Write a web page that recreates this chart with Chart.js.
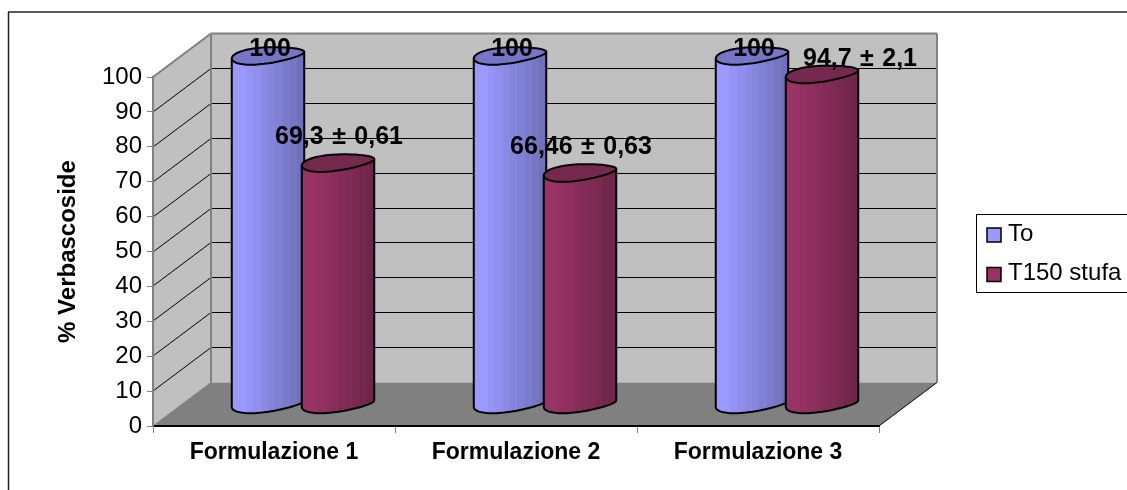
<!DOCTYPE html>
<html>
<head>
<meta charset="utf-8">
<title>% Verbascoside</title>
<script src="https://cdn.jsdelivr.net/npm/chart.js@4/dist/chart.umd.min.js"></script>
<style>
	html, body { margin: 0; padding: 0; background: #fff; overflow: hidden; }
	canvas { display: block; }
</style>
</head>
<body>
<canvas id="bar-graph" width="1127" height="490"></canvas>
<script>
!function(global) {

	var categories = ['Formulazione 1', 'Formulazione 2', 'Formulazione 3'];
	var seriesNames = ['To', 'T150 stufa'];
	var toValues = [100, 100, 100];
	var t150Values = [69.3, 66.46, 94.7];
	var toLabels = ['100', '100', '100'];
	var t150Labels = ['69,3 ± 0,61', '66,46 ± 0,63', '94,7 ± 2,1'];
	var yTicks = [0, 10, 20, 30, 40, 50, 60, 70, 80, 90, 100];

	var FONT = '"Liberation Sans", Arial, sans-serif';
	var BLUE = ['#9999ff', '#6c6cb2'];
	var RED = ['#993366', '#6a2446'];
	var TOP_BLUE = '#7676c6';
	var TOP_RED = '#76294f';

	// how far the back wall sits from the front plane
	var DEPTH_X = 58, DEPTH_Y = -43.5;
	var TILT = -5.5 * Math.PI / 180;
	var RY = 8;
	var DENT = -1;

	function mix(a, b, t) {
		var pa = parseInt(a.slice(1), 16), pb = parseInt(b.slice(1), 16);
		var out = [16, 8, 0].map(function(s) {
			var ca = (pa >> s) & 255, cb = (pb >> s) & 255;
			return Math.round(ca + (cb - ca) * t);
		});
		return 'rgb(' + out.join(',') + ')';
	}

	// stepped gradient so the cylinder looks faceted
	function facets(ctx, left, right, colors) {
		var g = ctx.createLinearGradient(left, 0, right, 0);
		var n = 10;
		for (var i = 0; i < n; i++) {
			var t = i < 2 ? 0 : (i - 1) / (n - 1);
			var c = mix(colors[0], colors[1], t);
			g.addColorStop(i / n, c);
			g.addColorStop((i + 1) / n, c);
		}
		return g;
	}

	// point on the rim of a cylinder, a tilted ellipse with a slight dent
	function rim(cx, cy, rx, t) {
		var px = rx * Math.cos(t);
		var py = RY * Math.sin(t) + DENT * Math.sin(2 * t);
		return [
			cx + px * Math.cos(TILT) - py * Math.sin(TILT),
			cy + px * Math.sin(TILT) + py * Math.cos(TILT)
		];
	}

	function traceRim(ctx, cx, cy, rx, from, to) {
		var steps = 48;
		for (var i = 0; i <= steps; i++) {
			var p = rim(cx, cy, rx, from + (to - from) * i / steps);
			ctx.lineTo(p[0], p[1]);
		}
	}

	function drawCylinder(ctx, el, colors, topColor) {
		var cx = el.x + DEPTH_X / 2;
		var topY = el.y + DEPTH_Y / 2;
		var botY = el.base + DEPTH_Y / 2;
		var rx = el.width / 2;
		var left = rim(cx, topY, rx, Math.PI), right = rim(cx, topY, rx, 0);

		ctx.lineJoin = 'round';
		ctx.beginPath();
		ctx.moveTo(left[0], left[1]);
		traceRim(ctx, cx, botY, rx, Math.PI, 0);
		ctx.lineTo(right[0], right[1]);
		ctx.closePath();
		ctx.fillStyle = facets(ctx, cx - rx, cx + rx, colors);
		ctx.fill();
		ctx.lineWidth = 2;
		ctx.strokeStyle = '#000';
		ctx.stroke();

		ctx.beginPath();
		traceRim(ctx, cx, topY, rx, 0, Math.PI * 2);
		ctx.closePath();
		ctx.fillStyle = topColor;
		ctx.fill();
		ctx.stroke();
	}

	function poly(ctx, pts, fill) {
		ctx.beginPath();
		pts.forEach(function(p, i) {
			if (i) ctx.lineTo(p[0], p[1]); else ctx.moveTo(p[0], p[1]);
		});
		ctx.closePath();
		ctx.fillStyle = fill;
		ctx.fill();
	}

	function line(ctx, x1, y1, x2, y2, color, lw) {
		ctx.beginPath();
		ctx.moveTo(x1, y1);
		ctx.lineTo(x2, y2);
		ctx.strokeStyle = color;
		ctx.lineWidth = lw;
		ctx.stroke();
	}

	var walls = {
		id: 'walls',
		beforeDraw: function(chart) {
			var ctx = chart.ctx, a = chart.chartArea, y = chart.scales.y;
			var l = a.left, r = a.right, t = a.top, b = a.bottom;
			ctx.save();

			// the frame only shows along the top and the left
			line(ctx, 8.5, 490, 8.5, 12, '#222', 1.5);
			line(ctx, 8, 12, 1127, 12, '#222', 1.5);

			poly(ctx, [[l, t], [l + DEPTH_X, t + DEPTH_Y], [l + DEPTH_X, b + DEPTH_Y], [l, b]], '#c0c0c0');
			poly(ctx, [[l + DEPTH_X, t + DEPTH_Y], [r + DEPTH_X, t + DEPTH_Y], [r + DEPTH_X, b + DEPTH_Y], [l + DEPTH_X, b + DEPTH_Y]], '#c0c0c0');
			poly(ctx, [[l, b], [r, b], [r + DEPTH_X, b + DEPTH_Y], [l + DEPTH_X, b + DEPTH_Y]], '#808080');

			// gridlines run along the side wall and across the back wall
			yTicks.forEach(function(v) {
				if (v === 0 || v === 100) return;
				var py = Math.round(y.getPixelForValue(v));
				line(ctx, l, py, l + DEPTH_X, py + DEPTH_Y, '#000', 1);
				line(ctx, l + DEPTH_X, py + DEPTH_Y, r + DEPTH_X, py + DEPTH_Y, '#000', 1);
			});

			line(ctx, l, t, l + DEPTH_X, t + DEPTH_Y, '#808080', 2);
			line(ctx, l + DEPTH_X, t + DEPTH_Y, r + DEPTH_X, t + DEPTH_Y, '#808080', 2);
			line(ctx, r + DEPTH_X, t + DEPTH_Y, r + DEPTH_X, b + DEPTH_Y, '#808080', 2);
			line(ctx, l + DEPTH_X, t + DEPTH_Y, l + DEPTH_X, b + DEPTH_Y, '#808080', 2);
			line(ctx, l, b, l + DEPTH_X, b + DEPTH_Y, '#808080', 1);
			line(ctx, r, b, r + DEPTH_X, b + DEPTH_Y, '#000', 1);
			ctx.restore();
		}
	};

	var cylinders = {
		id: 'cylinders',
		afterDatasetsDraw: function(chart) {
			var ctx = chart.ctx;
			var blue = chart.getDatasetMeta(0).data;
			var red = chart.getDatasetMeta(1).data;
			ctx.save();
			categories.forEach(function(c, i) {
				drawCylinder(ctx, blue[i], BLUE, TOP_BLUE);
				drawCylinder(ctx, red[i], RED, TOP_RED);
			});

			// value labels go on top of every cylinder
			ctx.fillStyle = '#000';
			ctx.font = 'bold 25px ' + FONT;
			ctx.wordSpacing = '1.5px';
			ctx.textAlign = 'center';
			ctx.textBaseline = 'middle';
			categories.forEach(function(c, i) {
				ctx.fillText(toLabels[i], blue[i].x + DEPTH_X / 2 + 2, blue[i].y + DEPTH_Y / 2 - 6);
				// the third label would run into its neighbour, so it sits to the right
				var shift = i === 2 ? 38 : 1;
				var lift = i === 2 ? 15 : 25;
				ctx.fillText(t150Labels[i], red[i].x + DEPTH_X / 2 + shift, red[i].y + DEPTH_Y / 2 - lift);
			});
			ctx.restore();
		}
	};

	var boxLegend = {
		id: 'boxLegend',
		afterDraw: function(chart) {
			var ctx = chart.ctx;
			ctx.save();
			ctx.fillStyle = '#fff';
			ctx.strokeStyle = '#000';
			ctx.lineWidth = 1;
			ctx.fillRect(976.5, 214.5, 160, 78);
			ctx.strokeRect(976.5, 214.5, 160, 78);
			ctx.font = '24px ' + FONT;
			ctx.textBaseline = 'middle';
			chart.data.datasets.forEach(function(ds, i) {
				var y = 234 + i * 39.5;
				ctx.fillStyle = ds.swatch;
				ctx.lineWidth = 1.5;
				ctx.fillRect(987, y - 6, 14, 14);
				ctx.strokeRect(987, y - 6, 14, 14);
				ctx.fillStyle = '#000';
				ctx.fillText(ds.label, 1008, y);
			});
			ctx.restore();
		}
	};

	var config = {
		type: 'bar',
		data: {
			labels: categories,
			datasets: [
				{ label: seriesNames[0], data: toValues, backgroundColor: 'transparent', swatch: BLUE[0] },
				{ label: seriesNames[1], data: t150Values, backgroundColor: 'transparent', swatch: RED[0] }
			]
		},
		options: {
			responsive: false,
			animation: false,
			layout: { padding: { left: 50, top: 77, right: 248, bottom: 20 } },
			datasets: { bar: { categoryPercentage: 0.5785, barPercentage: 1.04 } },
			plugins: { legend: { display: false }, tooltip: { enabled: false } },
			scales: {
				x: {
					afterFit: function(s) { s.height = 44; },
					border: { color: '#000', width: 2 },
					grid: { drawOnChartArea: false, tickLength: 7, tickColor: '#808080' },
					ticks: { color: '#000', padding: 6, maxRotation: 0, font: { family: FONT, size: 23, weight: 'bold' } }
				},
				y: {
					min: 0,
					max: 100,
					afterFit: function(s) { s.width = 103; },
					afterBuildTicks: function(s) {
						s.ticks = yTicks.map(function(v) { return { value: v }; });
					},
					border: { color: '#808080', width: 2 },
					grid: { drawOnChartArea: false, tickLength: 6, tickColor: '#808080' },
					title: { display: true, text: '% Verbascoside', color: '#000', padding: 4, font: { family: FONT, size: 24, weight: 'bold' } },
					ticks: { color: '#000', padding: 5, font: { family: FONT, size: 24 } }
				}
			}
		},
		plugins: [walls, cylinders, boxLegend]
	};

	var el = document.getElementById('bar-graph');
	var barGraph = new Chart(el, config);
	global.canvasObjects = [barGraph];

}(window)
</script>
</body>
</html>
